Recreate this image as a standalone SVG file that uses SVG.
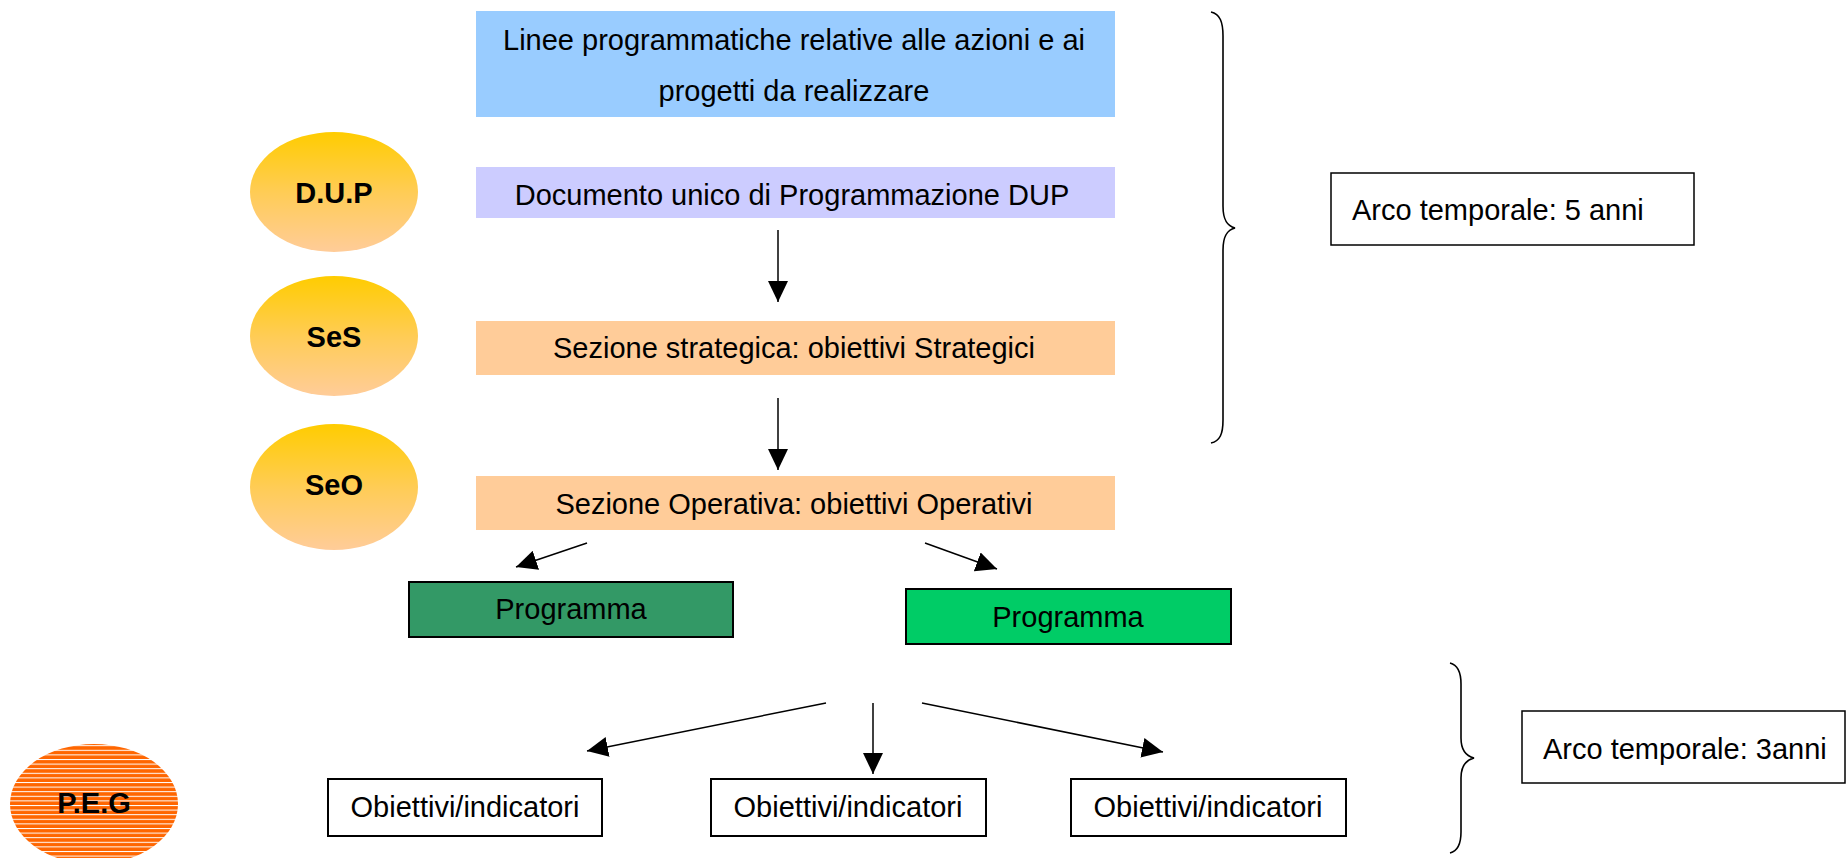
<svg xmlns="http://www.w3.org/2000/svg" width="1847" height="858" viewBox="0 0 1847 858">
<style>
text{font-family:"Liberation Sans",Arial,sans-serif;font-size:29px;fill:#000}
.c{text-anchor:middle}
.lbl{font-weight:bold;font-size:29px}
.conn{stroke:#000;stroke-width:1.5;fill:none}
.brace{stroke:#000;stroke-width:1.6;fill:none}
.box{stroke:#000;stroke-width:2}
</style>
<defs>
<linearGradient id="gold" x1="0" y1="0" x2="0" y2="1">
<stop offset="0" stop-color="#FFCC00"/>
<stop offset="0.5" stop-color="#FFCC55"/>
<stop offset="1" stop-color="#FFCC99"/>
</linearGradient>
<pattern id="stripes" patternUnits="userSpaceOnUse" width="10" height="4.6">
<rect width="10" height="4.6" fill="#FF6600"/>
<rect width="10" height="1" fill="#FFFFFF"/>
</pattern>
<marker id="ah" viewBox="0 0 21 20" refX="21" refY="10" markerWidth="21" markerHeight="20" markerUnits="userSpaceOnUse" orient="auto">
<path d="M0,0 L21,10 L0,20 Z" fill="#000"/>
</marker>
</defs>
<rect width="1847" height="858" fill="#FFFFFF"/>

<g id="linee">
<rect x="476" y="11" width="639" height="106" fill="#99CCFF"/>
<text class="c" x="794" y="50">Linee programmatiche relative alle azioni e ai</text>
<text class="c" x="794" y="101">progetti da realizzare</text>
</g>
<g id="dup-ellipse">
<ellipse cx="334" cy="192" rx="84" ry="60" fill="url(#gold)"/>
<text class="c lbl" x="334" y="203">D.U.P</text>
</g>
<g id="dup">
<rect x="476" y="167" width="639" height="51" fill="#CCCCFF"/>
<text class="c" x="792" y="205">Documento unico di Programmazione DUP</text>
</g>
<g id="ses-ellipse">
<ellipse cx="334" cy="336" rx="84" ry="60" fill="url(#gold)"/>
<text class="c lbl" x="334" y="347">SeS</text>
</g>
<g id="ses">
<rect x="476" y="321" width="639" height="54" fill="#FFCC99"/>
<text class="c" x="794" y="358">Sezione strategica: obiettivi Strategici</text>
</g>
<g id="seo-ellipse">
<ellipse cx="334" cy="487" rx="84" ry="63" fill="url(#gold)"/>
<text class="c lbl" x="334" y="495">SeO</text>
</g>
<g id="seo">
<rect x="476" y="476" width="639" height="54" fill="#FFCC99"/>
<text class="c" x="794" y="514">Sezione Operativa: obiettivi Operativi</text>
</g>
<g id="programma1">
<rect class="box" x="409" y="582" width="324" height="55" fill="#339966"/>
<text class="c" x="571" y="619">Programma</text>
</g>
<g id="programma2">
<rect class="box" x="906" y="589" width="325" height="55" fill="#00CC66"/>
<text class="c" x="1068" y="627">Programma</text>
</g>
<g id="obiettivi1">
<rect class="box" x="328" y="779" width="274" height="57" fill="#FFFFFF"/>
<text class="c" x="465" y="817">Obiettivi/indicatori</text>
</g>
<g id="obiettivi2">
<rect class="box" x="711" y="779" width="275" height="57" fill="#FFFFFF"/>
<text class="c" x="848" y="817">Obiettivi/indicatori</text>
</g>
<g id="obiettivi3">
<rect class="box" x="1071" y="779" width="275" height="57" fill="#FFFFFF"/>
<text class="c" x="1208" y="817">Obiettivi/indicatori</text>
</g>
<g id="peg">
<ellipse cx="94" cy="804" rx="84" ry="60" fill="url(#stripes)"/>
<text class="c lbl" x="94" y="813">P.E.G</text>
</g>
<g id="arco5">
<rect x="1331" y="173" width="363" height="72" fill="#FFFFFF" stroke="#000" stroke-width="1.5"/>
<text x="1352" y="220">Arco temporale: 5 anni</text>
</g>
<g id="arco3">
<rect x="1522" y="711" width="323" height="72" fill="#FFFFFF" stroke="#000" stroke-width="1.5"/>
<text x="1543" y="759">Arco temporale: 3anni</text>
</g>
<g id="braces">
<path class="brace" d="M1211,12 C1220,14 1223,22 1223,36 L1223,206 C1223,220 1227,226 1235,228 C1227,230 1223,236 1223,250 L1223,420 C1223,434 1220,441 1211,443"/>
<path class="brace" d="M1450,663 C1458,665 1461,672 1461,684 L1461,738 C1461,750 1466,756 1474,758 C1466,760 1461,766 1461,778 L1461,832 C1461,844 1458,851 1450,853"/>
</g>
<g id="connectors">
<line class="conn" x1="778" y1="230" x2="778" y2="302" marker-end="url(#ah)"/>
<line class="conn" x1="778" y1="398" x2="778" y2="470" marker-end="url(#ah)"/>
<line class="conn" x1="587" y1="543" x2="516" y2="567" marker-end="url(#ah)"/>
<line class="conn" x1="925" y1="543" x2="997" y2="569" marker-end="url(#ah)"/>
<line class="conn" x1="826" y1="703" x2="587" y2="751" marker-end="url(#ah)"/>
<line class="conn" x1="873" y1="703" x2="873" y2="774" marker-end="url(#ah)"/>
<line class="conn" x1="922" y1="703" x2="1163" y2="752" marker-end="url(#ah)"/>
</g>
</svg>
